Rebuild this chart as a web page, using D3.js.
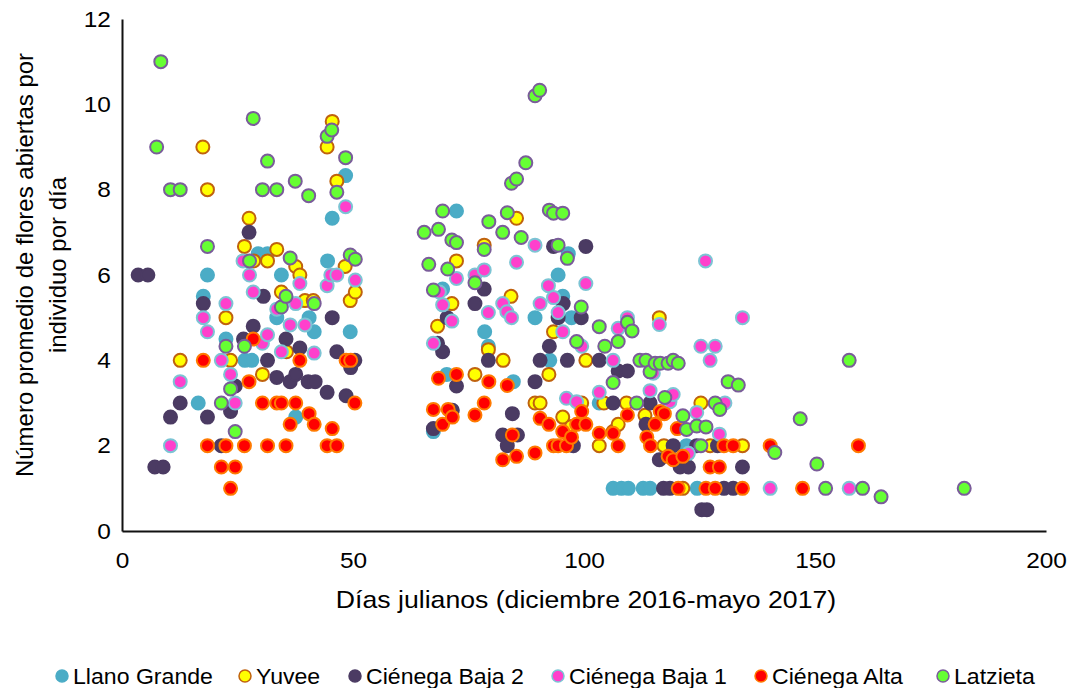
<!DOCTYPE html>
<html>
<head>
<meta charset="utf-8">
<script src="https://cdn.jsdelivr.net/npm/d3@7/dist/d3.min.js"></script>
<style>
  body { margin: 0; background: #fff; }
  svg { display: block; font-family: "Liberation Sans", Arial, sans-serif; }
  .tick text { fill: #000; }
</style>
</head>
<body>
<svg id="chart" width="1072" height="688"></svg>
<script>
// ===== datos: [día juliano, flores por individuo] =====
const llanoGrande = [[16.5,3.0],[17.6,5.5],[18.5,6.0],[22.5,4.5],[26.6,4.0],[28.1,4.0],[29.5,6.5],[31.5,6.5],[33.5,5.0],[34.5,6.0],[37.6,2.67],[40.5,5.0],[41.6,4.67],[44.5,6.33],[45.5,7.33],[48.4,8.33],[49.4,4.67],
  [67.4,2.33],[69.4,5.67],[70.3,3.67],[72.4,7.5],[78.5,4.67],[79.3,4.33],[84.7,3.5],[89.4,5.0],[92.6,4.0],[94.4,6.0],[95.4,5.5],[96.6,6.5],[97.3,5.0],[103.3,3.0],[106.3,1],[108.1,1],[109.6,1],[112.8,1],[114.3,1],[122.2,2.0],[124.5,1.0]];

const yuvee = [[12.6,4.0],[17.5,9.0],[18.5,8.0],[22.5,5.0],[23.5,4.0],[26.5,6.67],[27.5,7.33],[28.5,6.33],[30.4,3.67],[31.5,6.33],[33.5,6.6],[34.5,5.6],[35.6,4.2],[37.6,6.2],[38.5,6.0],[39.6,5.4],[41.4,5.4],[44.4,9.0],[45.5,9.6],[46.5,8.2],[48.3,6.2],[49.4,5.4],[50.5,5.6],
  [68.3,4.8],[71.4,5.33],[72.4,6.33],[76.4,3.67],[78.4,6.7],[79.3,4.25],[82.5,4.0],[84.2,5.5],[85.4,7.33],[89.4,3.0],[90.5,3.0],[92.4,3.67],[93.4,4.67],[95.4,2.67],[97.3,2.45],[99.5,3.0],[100.4,4.0],[103.3,2.0],[104.3,3.0],[106.3,2.33],[107.4,2.5],[109.2,3.0],[113.2,2.71],[116.3,5.0],[117.3,2.0],[121.4,1.0],[125.3,3.0],[127.3,2.0],[134.3,2.0]];

const cienegaBaja2 = [[3.5,6.0],[5.6,6.0],[7.1,1.5],[8.9,1.5],[10.5,2.67],[12.6,3.0],[17.6,5.33],[18.5,2.67],[21.5,2.0],[23.5,2.8],[24.5,3.4],[26.3,4.5],[27.5,7.0],[28.4,4.8],[30.6,5.5],[31.5,4.0],[33.5,3.6],[35.5,4.5],[36.4,3.5],[37.6,3.67],[38.5,4.29],[40.3,3.5],[41.8,3.5],[44.4,3.25],[45.5,5.0],[46.5,4.2],[48.5,3.17],[49.5,3.83],[50.4,4.0],
  [67.4,2.4],[68.3,4.4],[69.4,4.2],[70.4,5.0],[71.5,2.83],[72.4,3.4],[76.4,5.33],[78.4,5.67],[79.3,4.0],[82.4,2.25],[83.4,2.0],[84.5,2.75],[85.6,2.25],[89.4,3.5],[90.5,4.0],[92.5,4.33],[93.4,6.67],[94.4,5.0],[95.5,5.33],[96.4,4.0],[97.7,2.0],[99.4,5.0],[100.4,6.67],[103.3,4.0],[106.3,3.0],[107.4,3.75],[109.4,3.75],[113.4,2.5],[114.3,3.0],[116.3,1.67],[117.2,1.0],[118.6,1.0],[119.3,2.0],[120.8,1.5],[122.6,1.5],[124.4,2.0],[125.5,0.5],[126.6,0.5],[128.9,2.0],[130.3,1.0],[132.3,1.0],[134.3,1.5]];

const cienegaBaja1 = [[10.5,2.0],[12.6,3.5],[17.6,5.0],[18.5,4.67],[21.5,4.0],[22.5,5.33],[23.5,3.67],[24.5,3.0],[26.2,6.33],[27.6,6.0],[28.4,5.6],[30.4,4.4],[31.5,4.6],[33.5,5.2],[34.5,4.2],[36.4,4.83],[37.6,5.33],[38.5,5.8],[39.6,4.83],[41.6,4.17],[44.4,5.75],[45.2,6.0],[46.5,6.0],[48.4,7.6],[50.5,5.88],
  [67.4,4.4],[68.7,5.6],[69.4,5.3],[71.4,4.92],[72.4,5.92],[76.4,6.0],[78.4,6.12],[79.3,5.12],[82.4,5.33],[83.3,5.14],[84.3,5.0],[85.4,6.3],[89.4,6.7],[90.5,5.33],[92.3,5.75],[93.4,5.47],[94.4,5.12],[95.4,4.67],[96.2,3.11],[98.4,3.03],[99.5,4.33],[100.4,5.8],[103.3,3.25],[106.3,4.0],[107.4,4.75],[109.4,5.0],[114.3,3.29],[115.0,3.7],[116.3,4.84],[118.6,3.03],[119.3,3.2],[122.6,1.82],[124.4,2.78],[125.3,4.33],[126.3,6.33],[127.3,4.0],[128.4,4.33],[129.3,2.27],[130.5,3.0],[134.3,5.0],[140.3,1.0],[157.4,1.0]];

const cienegaAlta = [[17.6,4.0],[18.5,2.0],[21.5,1.5],[22.5,2.0],[23.5,1.0],[24.5,1.5],[26.5,2.0],[27.5,3.5],[28.4,4.5],[30.4,3.0],[31.5,2.0],[33.5,3.0],[34.5,3.0],[35.5,2.0],[36.4,2.5],[37.6,3.0],[38.5,4.0],[40.5,2.75],[41.6,2.5],[44.4,2.0],[45.5,2.4],[46.5,2.0],[48.5,4.0],[49.5,4.0],[50.4,3.0],
  [67.4,2.85],[68.5,3.58],[69.4,2.5],[70.6,2.85],[71.5,2.67],[72.4,3.67],[76.4,2.72],[78.4,3.0],[79.4,3.5],[82.4,1.67],[83.4,3.41],[84.5,2.25],[85.4,1.75],[89.4,1.83],[90.5,2.64],[92.4,2.5],[93.4,2.0],[94.4,2.0],[95.4,2.33],[96.2,2.0],[97.3,2.2],[98.4,2.5],[99.5,2.8],[100.4,2.5],[103.3,2.29],[106.3,2.29],[107.4,2.0],[109.4,2.72],[113.6,2.2],[114.4,2.0],[115.4,2.5],[116.5,2.8],[117.4,2.75],[118.2,1.75],[119.3,1.67],[120.2,2.4],[120.4,1.0],[121.4,1.75],[126.4,1.0],[127.3,1.5],[128.4,1.0],[129.3,1.5],[130.3,2.0],[132.3,2.0],[134.3,1.0],[140.3,2.0],[147.3,1.0],[159.4,2.0]];

const latzieta = [[7.5,9.0],[8.4,11.0],[10.5,8.0],[12.6,8.0],[18.5,6.67],[21.5,3.0],[22.5,4.33],[23.5,3.33],[24.5,2.33],[26.5,4.33],[27.6,6.33],[28.4,9.67],[30.4,8.0],[31.5,8.67],[33.5,8.0],[34.5,5.25],[35.5,5.5],[36.4,6.4],[37.5,8.2],[40.4,7.86],[41.6,5.33],[44.4,9.25],[45.4,9.4],[46.5,7.94],[48.4,8.75],[49.4,6.47],[50.5,6.37],
  [65.4,7.0],[66.4,6.25],[67.4,5.65],[68.5,7.07],[69.4,7.5],[70.5,6.14],[71.4,6.82],[72.4,6.76],[76.4,5.82],[78.4,6.6],[79.4,7.25],[82.4,7.0],[83.4,7.46],[84.3,8.15],[85.4,8.25],[86.4,6.88],[87.4,8.63],[89.4,10.2],[90.4,10.33],[92.5,7.52],[93.4,7.45],[95.4,7.45],[94.4,6.7],[96.4,6.39],[99.4,5.25],[98.4,4.44],[103.3,4.79],[104.5,4.33],[106.3,3.48],[107.4,4.44],[109.4,4.89],[110.4,4.69],[111.4,3.0],[112.1,4.0],[113.4,4.0],[114.3,3.73],[115.4,3.93],[116.5,3.93],[117.5,3.13],[118.2,3.93],[119.3,4.0],[120.4,3.93],[121.4,2.7],[122.2,2.38],[124.4,2.46],[126.4,2.44],[125.3,2.0],[128.4,3.0],[129.4,2.85],[131.2,3.5],[133.4,3.42],[141.3,1.84],[146.8,2.63],[150.4,1.57],[152.3,1.0],[157.4,4.0],[160.3,1.0],[164.3,0.8],[182.3,1.0]];

const xTicks = [0, 50, 100, 150, 200];
const yTicks = [0, 2, 4, 6, 8, 10, 12];

const series = [
  { nombre: "Llano Grande",   datos: llanoGrande,  relleno: "#4BACC6", borde: "#4BACC6", lx: 62 },
  { nombre: "Yuvee",          datos: yuvee,        relleno: "#FFFF00", borde: "#C0620E", lx: 245 },
  { nombre: "Ciénega Baja 2", datos: cienegaBaja2, relleno: "#4B3B63", borde: "#4B3B63", lx: 355 },
  { nombre: "Ciénega Baja 1", datos: cienegaBaja1, relleno: "#FF3FCC", borde: "#7CC4D4", lx: 558 },
  { nombre: "Ciénega Alta",   datos: cienegaAlta,  relleno: "#FF0000", borde: "#FF7A00", lx: 761 },
  { nombre: "Latzieta",       datos: latzieta,     relleno: "#66FF33", borde: "#7A5C9A", lx: 943 }
];

const estirar = "scale(1.11,1)"; // el texto original sale un poco ensanchado

// ===== escalas =====
const svg = d3.select("#chart");
const x = d3.scaleLinear().domain([0, 200]).range([122, 1046]);
const y = d3.scaleLinear().domain([0, 12]).range([531, 19]);

// ===== ejes =====
const ejeX = svg.append("g")
  .attr("transform", "translate(0,531)")
  .call(d3.axisBottom(x).tickValues(xTicks).tickSize(0).tickPadding(21));
const ejeY = svg.append("g")
  .attr("transform", "translate(122,0)")
  .call(d3.axisLeft(y).tickValues(yTicks).tickSize(0).tickPadding(10));

[ejeX, ejeY].forEach(g => {
  g.select(".domain").attr("stroke", "#111").attr("stroke-width", 2);
  g.selectAll("text")
    .attr("font-size", 22)
    .attr("font-family", "Liberation Sans, Arial, sans-serif")
    .attr("transform", estirar);
});

// ===== puntos =====
series.forEach(s => {
  svg.append("g").selectAll("circle")
    .data(s.datos)
    .enter()
    .append("circle")
    .attr("cx", d => x(d[0]))
    .attr("cy", d => y(d[1]))
    .attr("r", 6.5)
    .attr("fill", s.relleno)
    .attr("stroke", s.borde)
    .attr("stroke-width", 2);
});

// ===== titulos =====
svg.append("g")
  .attr("transform", "translate(586,608)")
  .append("text")
  .attr("transform", estirar)
  .attr("text-anchor", "middle")
  .attr("font-size", 24)
  .text("Días julianos (diciembre 2016-mayo 2017)");

svg.append("text")
  .attr("transform", "translate(33,265) rotate(-90)")
  .attr("text-anchor", "middle")
  .attr("font-size", 24)
  .text("Número promedio de flores abiertas por");

svg.append("text")
  .attr("transform", "translate(66,265) rotate(-90)")
  .attr("text-anchor", "middle")
  .attr("font-size", 24)
  .text("individuo por día");

// ===== leyenda =====
const leyenda = svg.append("g");
series.forEach(s => {
  leyenda.append("circle")
    .attr("cx", s.lx).attr("cy", 676).attr("r", 6)
    .attr("fill", s.relleno).attr("stroke", s.borde).attr("stroke-width", 1.5);
  leyenda.append("g")
    .attr("transform", `translate(${s.lx + 11},684)`)
    .append("text")
    .attr("transform", "scale(1.05,1)")
    .attr("font-size", 22)
    .text(s.nombre);
});
</script>
</body>
</html>
